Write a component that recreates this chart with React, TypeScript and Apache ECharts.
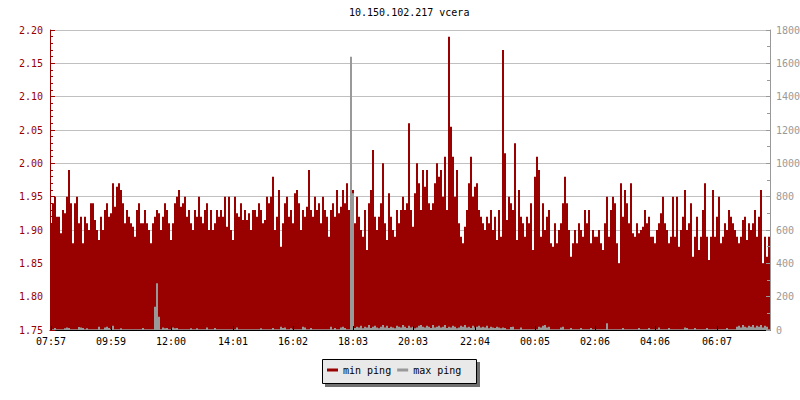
import React, { useEffect, useRef } from 'react';
import * as echarts from 'echarts';

const TITLE = '10.150.102.217 vcera';
const tickLabels = ['07:57', '09:59', '12:00', '14:01', '16:02', '18:03', '20:03', '22:04', '00:05', '02:06', '04:06', '06:07'];
const tickIndex = [0, 30, 60, 91, 121, 151, 181, 212, 242, 272, 302, 333];

const minPing1 = [
  1.91, 1.94, 1.95, 1.92, 1.92, 1.895, 1.93, 1.925, 1.95, 1.99,
  1.94, 1.88, 1.94, 1.95, 1.91, 1.92, 1.88, 1.92, 1.91, 1.90,
  1.94, 1.94, 1.915, 1.90, 1.885, 1.92, 1.90, 1.93, 1.94, 1.92,
  1.925, 1.97, 1.935, 1.965, 1.97, 1.96, 1.94, 1.91, 1.93, 1.92,
  1.91, 1.905, 1.89, 1.93, 1.94, 1.91, 1.91, 1.93, 1.91, 1.90,
  1.88, 1.91, 1.92, 1.93, 1.925, 1.90, 1.92, 1.94, 1.93, 1.91,
  1.885, 1.91, 1.94, 1.95, 1.96, 1.935, 1.94, 1.95, 1.92, 1.93,
  1.91, 1.90,
];
const minPing2 = [
  1.93, 1.92, 1.95, 1.92, 1.91, 1.93, 1.94, 1.90, 1.93, 1.90,
  1.91, 1.93, 1.92, 1.93, 1.92, 1.95, 1.905, 1.95, 1.90, 1.885,
  1.95, 1.925, 1.92, 1.94, 1.915, 1.93, 1.915, 1.925, 1.90, 1.93,
  1.93, 1.92, 1.94, 1.93, 1.91, 1.915, 1.95, 1.94, 1.95, 1.98,
  1.90, 1.92, 1.96, 1.875, 1.91, 1.94, 1.95, 1.92, 1.93, 1.91,
  1.955, 1.96, 1.94, 1.90, 1.93, 1.92, 1.935, 1.99, 1.93, 1.92,
  1.95, 1.93, 1.94, 1.91, 1.95, 1.93, 1.92, 1.89, 1.93, 1.94,
  1.92, 1.96,
];
const minPing3 = [
  1.925, 1.935, 1.96, 1.94, 1.97, 1.93, 1.94, 1.96, 1.91, 1.95,
  1.92, 1.90, 1.89, 1.93, 1.87, 1.94, 1.96, 2.02, 1.92, 1.90,
  1.92, 1.94, 2.00, 1.91, 1.885, 1.955, 1.92, 1.90, 1.89, 1.93,
  1.91, 1.93, 1.95, 1.93, 1.94, 2.06, 1.93, 1.905, 1.955, 2.00,
  1.97, 1.93, 1.99, 1.965, 1.99, 1.94, 1.93, 1.94, 1.97, 2.00,
  1.98, 1.99, 1.95, 2.01, 1.93, 2.19, 2.055, 2.01, 1.95, 1.99,
  1.91, 1.89, 1.88, 1.905, 1.93, 1.97, 2.01, 1.95, 1.965, 1.97,
  1.93, 1.92,
];
const minPing4 = [
  1.91, 1.90, 1.92, 1.91, 1.93, 1.90, 1.92, 1.885, 1.93, 1.89,
  2.17, 2.015, 1.915, 1.95, 1.94, 1.93, 2.03, 1.885, 1.96, 1.92,
  1.91, 1.89, 1.92, 1.91, 1.94, 1.87, 1.98, 2.01, 1.99, 1.89,
  1.94, 1.90, 1.92, 1.93, 1.88, 1.875, 1.91, 1.88, 1.90, 1.91,
  1.94, 1.98, 1.94, 1.90, 1.86, 1.88, 1.90, 1.88, 1.91, 1.90,
  1.89, 1.93, 1.91, 1.93, 1.88, 1.90, 1.89, 1.89, 1.90, 1.88,
  1.87, 1.91, 1.95, 1.89, 1.93, 1.95, 1.94, 1.88, 1.85, 1.97,
  1.92, 1.96,
];
const minPing5 = [
  1.94, 1.91, 1.97, 1.895, 1.89, 1.91, 1.895, 1.90, 1.905, 1.93,
  1.91, 1.92, 1.89, 1.89, 1.88, 1.90, 1.91, 1.925, 1.95, 1.91,
  1.90, 1.88, 1.89, 1.95, 1.89, 1.95, 1.875, 1.90, 1.92, 1.96,
  1.90, 1.91, 1.94, 1.86, 1.89, 1.92, 1.87, 1.89, 1.93, 1.97,
  1.89, 1.855, 1.89, 1.96, 1.89, 1.92, 1.95, 1.88, 1.89, 1.91,
  1.90, 1.93, 1.92, 1.91, 1.90, 1.89, 1.88, 1.89, 1.915, 1.92,
  1.885, 1.91, 1.90, 1.91, 1.93, 1.89, 1.92, 1.96, 1.85, 1.89,
  1.86, 1.89,
];

const maxPing1 = [
  5, 5, 12, 5, 5, 5, 5, 10, 15, 12,
  5, 5, 5, 5, 18, 15, 12, 5, 10, 5,
  5, 5, 5, 5, 20, 5, 5, 15, 20, 12,
  5, 25, 5, 5, 5, 10, 5, 5, 5, 5,
  5, 5, 5, 5, 5, 5, 12, 5, 5, 5,
  5, 5, 140, 280, 80, 5, 15, 10, 12, 5,
  5, 15, 10, 12, 5, 5, 5, 5, 5, 5,
  10, 5,
];
const maxPing2 = [
  5, 10, 5, 5, 5, 5, 15, 5, 5, 5,
  12, 5, 5, 5, 5, 5, 5, 5, 5, 5,
  5, 15, 5, 5, 5, 5, 5, 5, 5, 5,
  5, 5, 5, 10, 5, 5, 5, 5, 5, 12,
  5, 5, 5, 20, 12, 15, 5, 5, 10, 5,
  5, 5, 5, 5, 20, 15, 5, 5, 12, 5,
  5, 5, 5, 5, 5, 5, 5, 5, 20, 5,
  12, 5,
];
const maxPing3 = [
  5, 15, 20, 12, 5, 5, 1640, 820, 12, 20,
  15, 25, 10, 20, 15, 30, 12, 20, 25, 15,
  10, 20, 30, 15, 25, 12, 20, 15, 10, 25,
  20, 15, 30, 20, 12, 25, 15, 20, 10, 15,
  25, 30, 20, 15, 25, 20, 12, 30, 15, 20,
  25, 15, 20, 30, 12, 20, 15, 25, 20, 10,
  15, 25, 20, 30, 15, 20, 12, 25, 15, 20,
  25, 15,
];
const maxPing4 = [
  20, 15, 25, 10, 20, 15, 12, 20, 15, 10,
  15, 12, 5, 5, 18, 20, 5, 5, 5, 15,
  5, 5, 5, 5, 5, 5, 5, 5, 20, 15,
  25, 30, 15, 20, 5, 5, 5, 5, 5, 15,
  20, 5, 5, 5, 12, 5, 5, 5, 5, 12,
  5, 5, 5, 5, 12, 5, 5, 5, 5, 5,
  5, 5, 40, 5, 5, 5, 5, 5, 5, 5,
  12, 5,
];
const maxPing5 = [
  5, 5, 5, 5, 5, 5, 12, 5, 5, 5,
  5, 12, 5, 5, 5, 5, 15, 5, 5, 5,
  5, 12, 5, 5, 5, 5, 5, 5, 5, 15,
  12, 5, 5, 5, 12, 5, 5, 5, 5, 5,
  12, 5, 5, 5, 5, 5, 5, 5, 5, 5,
  12, 5, 5, 5, 5, 20, 25, 15, 30, 20,
  15, 25, 20, 30, 15, 25, 20, 30, 15, 25,
  20, 5,
];

const minPing = [...minPing1, ...minPing2, ...minPing3, ...minPing4, ...minPing5];
const maxPing = [...maxPing1, ...maxPing2, ...maxPing3, ...maxPing4, ...maxPing5];

export default function App() {
  const ref = useRef<HTMLDivElement>(null);
  useEffect(() => {
    const chart = echarts.init(ref.current!, null, { renderer: 'svg' });
    const mono = '"DejaVu Sans Mono", monospace';
    const categories = minPing.map((_, i) => String(i));
    const labelAt = new Map<number, string>(tickIndex.map((idx, i) => [idx, tickLabels[i]]));
    chart.setOption({
      animation: false,
      backgroundColor: '#ffffff',
      title: {
        text: TITLE,
        left: 349,
        top: 7,
        padding: 0,
        textStyle: { fontFamily: mono, fontSize: 10, fontWeight: 'normal', color: '#000' },
      },
      graphic: [
        { type: 'rect', z: 1, shape: { x: 325, y: 362, width: 155, height: 25 }, style: { fill: '#707070' } },
        { type: 'rect', z: 2, shape: { x: 322.5, y: 359.5, width: 154, height: 24 }, style: { fill: '#e9e9e9', stroke: '#000', lineWidth: 1 } },
      ],
      legend: {
        left: 327,
        top: 365,
        padding: 0,
        itemWidth: 11,
        itemHeight: 3,
        itemGap: 6,
        z: 5,
        textStyle: { fontFamily: mono, fontSize: 10, color: '#000' },
        data: [
          { name: 'min ping', icon: 'rect' },
          { name: 'max ping', icon: 'rect' },
        ],
      },
      grid: { left: 50, right: 30, top: 30, bottom: 70, containLabel: false, outerBoundsMode: 'none' },
      xAxis: {
        type: 'category',
        data: categories,
        boundaryGap: true,
        z: 3,
        axisLine: { lineStyle: { color: '#000', width: 1 } },
        axisTick: {
          show: true,
          inside: true,
          length: 4,
          alignWithLabel: true,
          interval: (i: number) => labelAt.has(i),
          lineStyle: { color: '#000' },
        },
        axisLabel: {
          interval: (i: number) => labelAt.has(i),
          formatter: (_v: string, i: number) => labelAt.get(i) ?? '',
          margin: 6,
          fontFamily: mono,
          fontSize: 10,
          color: '#000',
        },
        splitLine: { show: false },
      },
      yAxis: [
        {
          type: 'value',
          min: 1.75,
          max: 2.2,
          interval: 0.05,
          position: 'left',
          z: 3,
          axisLine: { show: true, lineStyle: { color: '#990000' } },
          axisTick: { show: true, inside: true, length: 5, lineStyle: { color: '#990000' } },
          minorTick: { show: true, splitNumber: 5, length: 3, lineStyle: { color: '#990000' } },
          axisLabel: {
            formatter: (v: number) => v.toFixed(2),
            color: '#990000',
            fontFamily: mono,
            fontSize: 10,
            margin: 7,
          },
          splitLine: { show: false },
        },
        {
          type: 'value',
          min: 0,
          max: 1800,
          interval: 200,
          position: 'right',
          z: 3,
          axisLine: { show: true, lineStyle: { color: '#999999' } },
          axisTick: { show: true, inside: true, length: 4, lineStyle: { color: '#999999' } },
          minorTick: { show: true, splitNumber: 2, length: 3, lineStyle: { color: '#999999' } },
          axisLabel: {
            formatter: (v: number) => String(v),
            color: '#999999',
            fontFamily: mono,
            fontSize: 10,
            margin: 6,
          },
          splitLine: { show: false },
        },
        {
          type: 'value',
          min: 1.75,
          max: 2.2,
          interval: 0.05,
          position: 'left',
          z: 0,
          axisLine: { show: false },
          axisTick: { show: false },
          axisLabel: { show: false },
          splitLine: { show: true, lineStyle: { color: '#c0c0c0', width: 1 } },
        },
      ],
      series: [
        {
          name: 'min ping',
          type: 'bar',
          data: minPing,
          yAxisIndex: 0,
          barCategoryGap: '0%',
          barGap: '-100%',
          clip: true,
          itemStyle: { color: '#990000' },
        },
        {
          name: 'max ping',
          type: 'bar',
          data: maxPing,
          yAxisIndex: 1,
          barCategoryGap: '0%',
          barGap: '-100%',
          clip: true,
          itemStyle: { color: '#999999' },
        },
      ],
    });
    return () => chart.dispose();
  }, []);
  return <div ref={ref} style={{ position: 'absolute', left: 0, top: 0, width: 800, height: 400 }} />;
}
